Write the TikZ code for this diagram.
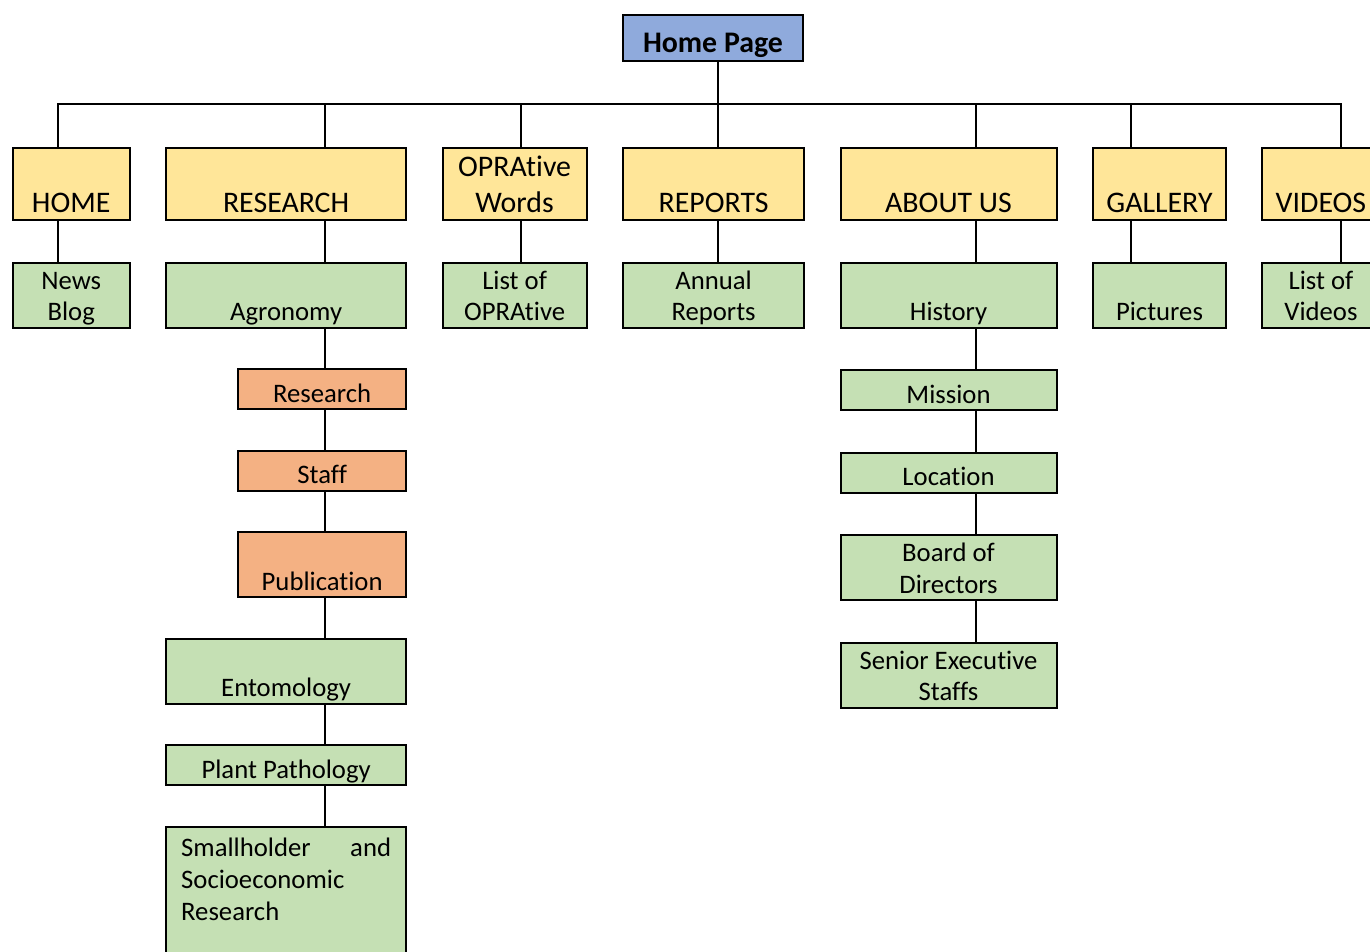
\documentclass[tikz,border=0pt]{standalone}
\usepackage{fontspec}
\setmainfont{Carlito}[Ligatures={NoCommon,NoContextual}]
\usetikzlibrary{positioning}

\definecolor{topblue}{HTML}{8FAADC}
\definecolor{menuyellow}{HTML}{FFE699}
\definecolor{pagegreen}{HTML}{C5E0B4}
\definecolor{subpink}{HTML}{F4B183}

% centred lines, the node sits on the last one
\newcommand{\stacklines}[1]{\vbox{\let\\\cr\halign{\hfil##\hfil\cr#1\crcr}}}

\begin{document}
\begin{tikzpicture}[
    x=0.02cm, y=-0.02cm,
    node distance=0.83cm,
    every node/.style={draw, line width=0.04cm, inner sep=0pt, outer sep=0pt,
      text depth=0.14cm, font=\fontsize{15.2pt}{18pt}\selectfont},
    menu/.style={fill=menuyellow, text height=1.28cm, text depth=0.16cm,
      font=\fontsize{17pt}{20.4pt}\selectfont},
    page/.style={fill=pagegreen, text height=1.16cm},
    sub/.style={fill=subpink, text height=1.16cm, minimum width=3.36cm},
    slim/.style={text height=0.66cm},
    link/.style={line width=0.04cm}
]
\useasboundingbox (0,0) rectangle (1370,952);
\clip (0,0) rectangle (1370,952);

\node (top) at (713,38) [fill=topblue, minimum width=3.62cm, text height=0.76cm, text depth=0.16cm,
  font=\fontsize{17pt}{20.4pt}\selectfont\bfseries] {Home Page};

\node (home) at (71.2,184.3) [menu, minimum width=2.34cm] {HOME};
\node (research) [menu, right=0.73cm of home, minimum width=4.8cm] {RESEARCH};
\node (words) [menu, right=0.73cm of research, minimum width=2.88cm] {\stacklines{OPRAtive\\Words}};
\node (reports) [menu, right=0.73cm of words, minimum width=3.62cm] {REPORTS};
\node (about) [menu, right=0.73cm of reports, minimum width=4.32cm] {ABOUT US};
\node (gallery) [menu, right=0.73cm of about, minimum width=2.66cm] {GALLERY};
\node (videos) [menu, right=0.73cm of gallery, minimum width=2.34cm] {VIDEOS};

\node (news) [page, below=0.85cm of home, minimum width=2.34cm] {\stacklines{News\\Blog}};
\node (agro) [page, below=0.85cm of research, minimum width=4.8cm] {Agronomy};
\node (oplist) [page, below=0.85cm of words, minimum width=2.88cm] {\stacklines{List of\\OPRAtive}};
\node (annual) [page, below=0.85cm of reports, minimum width=3.62cm] {\stacklines{Annual\\Reports}};
\node (history) [page, below=0.85cm of about, minimum width=4.32cm] {History};
\node (pics) [page, below=0.85cm of gallery, minimum width=2.66cm] {Pictures};
\node (vidlist) [page, below=0.85cm of videos, minimum width=2.34cm] {\stacklines{List of\\Videos}};

\node (res) [sub, slim, below=of agro.south east, anchor=north east] {Research};
\node (staff) [sub, slim, below=of res] {Staff};
\node (pub) [sub, below=of staff] {Publication};
\node (ento) [page, minimum width=4.8cm, below=of pub.south east, anchor=north east] {Entomology};
\node (plant) [page, slim, minimum width=4.8cm, below=of ento] {Plant Pathology};
\node (small) [page, minimum width=4.8cm, text height=1.87cm, text depth=1cm, below=of plant]
  {\vbox{\hbox to 4.2cm{Smallholder\hfill and}\hbox{Socioeconomic}\hbox{Research}}};

\node (mission) [page, slim, minimum width=4.32cm, below=0.85cm of history] {Mission};
\node (location) [page, slim, minimum width=4.32cm, below=0.85cm of mission] {Location};
\node (board) [page, minimum width=4.32cm, below=0.85cm of location] {\stacklines{Board of\\Directors}};
\node (senior) [page, minimum width=4.32cm, below=0.85cm of board] {\stacklines{Senior Executive\\Staffs}};

\foreach \n/\x in {home/58, research/325, words/521, reports/718, about/976, gallery/1131, videos/1341}
  \coordinate (bus-\n) at (\x,104);

\draw[link] (bus-home |- home.north) -- (bus-home) -- (bus-videos) -- (bus-videos |- videos.north);
\draw[link] (bus-reports |- top.south) -- (bus-reports);
\foreach \n in {research, words, reports, about, gallery}
  \draw[link] (bus-\n) -- (bus-\n |- \n.north);
\foreach \n/\m in {home/news, research/agro, words/oplist, reports/annual, about/history, gallery/pics, videos/vidlist}
  \draw[link] (bus-\n |- \n.south) -- (bus-\n |- \m.north);
\foreach \a/\b in {agro/res, res/staff, staff/pub, pub/ento, ento/plant, plant/small}
  \draw[link] (bus-research |- \a.south) -- (bus-research |- \b.north);
\foreach \a/\b in {history/mission, mission/location, location/board, board/senior}
  \draw[link] (bus-about |- \a.south) -- (bus-about |- \b.north);
\end{tikzpicture}
\end{document}
